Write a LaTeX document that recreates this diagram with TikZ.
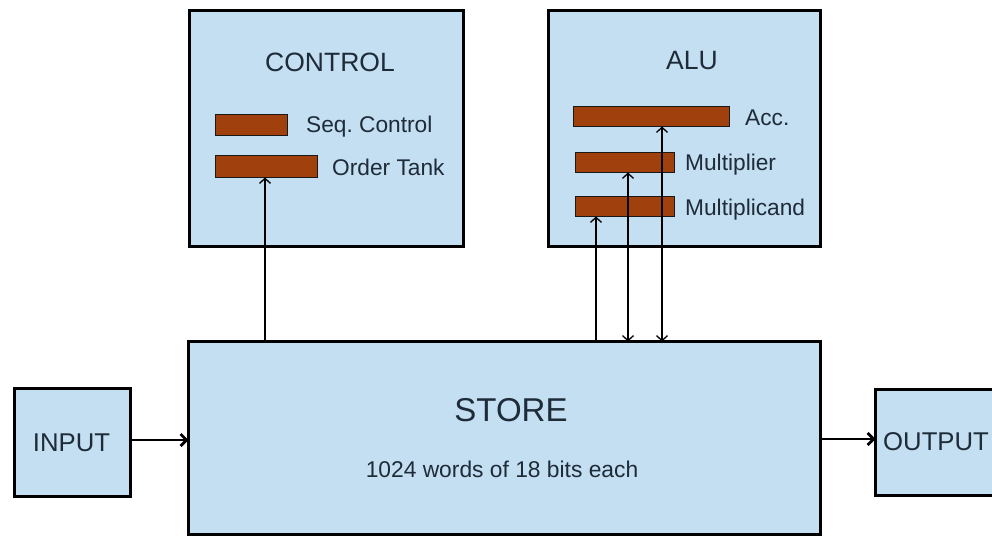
\documentclass[tikz,border=0pt]{standalone}
\usepackage{fontspec}
\setmainfont{Liberation Sans}
\usetikzlibrary{arrows.meta,calc}
\frenchspacing
\definecolor{boxblue}{HTML}{C4DEF2}
\definecolor{barbrown}{HTML}{A0400C}
\definecolor{txt}{HTML}{1E2B38}
\tikzset{
  box/.style={draw=black, line width=2.9pt, fill=boxblue, inner sep=0pt, outer sep=0pt},
  regbar/.style={draw=black!90, line width=1.3pt, fill=barbrown, inner sep=0pt, outer sep=0pt},
  title/.style={text=txt, inner sep=0pt, anchor=base, font=\fontsize{26.5}{30}\selectfont},
  small/.style={text=txt, inner sep=0pt, anchor=base west, font=\fontsize{22.7}{26}\selectfont},
  arr/.style={line width=1.3pt, -{Straight Barb[length=5pt,width=11pt]}},
  darr/.style={line width=1.3pt, {Straight Barb[length=5pt,width=11pt]}-{Straight Barb[length=5pt,width=11pt]}},
  thickarr/.style={line width=2.8pt, -{Straight Barb[length=6pt,width=12pt]}}
}
\begin{document}
\begin{tikzpicture}[x=1pt,y=-1pt]
\useasboundingbox[fill=white] (0,0) rectangle (992,537);
% boxes
\node[box, minimum width=274pt, minimum height=236pt] (ctrl) at (326.5,128.5) {};
\node[box, minimum width=272pt, minimum height=236pt] (alu) at (684.5,128.5) {};
\node[box, minimum width=632pt, minimum height=193pt] (store) at (504.5,438) {};
\node[box, minimum width=116pt, minimum height=108pt] (input) at (72.5,442.5) {};
\node[box, minimum width=140pt, minimum height=106pt] (output) at (945.5,442.5) {};
% registers
\node[regbar, minimum width=72pt, minimum height=21pt] (seq) at (251.5,125) {};
\node[regbar, minimum width=102pt, minimum height=22pt] (ot) at (266.5,166.5) {};
\node[regbar, minimum width=156pt, minimum height=20pt] (acc) at (651.5,116.5) {};
\node[regbar, minimum width=99pt, minimum height=20pt] (mp) at (625,162.5) {};
\node[regbar, minimum width=99pt, minimum height=20pt] (mc) at (625,206.5) {};
% texts
\node[title] (ctrlt) at (330,72) {CONTROL};
\node[small] (seqt) at (306,133) {Seq. Control};
\node[small] (ott) at (332,175.5) {Order Tank};
\node[title] (alut) at (692,70) {ALU};
\node[small] (acct) at (745,125.5) {Acc.};
\node[small] (mpt) at (685,170.5) {Multiplier};
\node[small] (mct) at (685,215) {Multiplicand};
\node[text=txt, inner sep=0pt, anchor=base, font=\fontsize{33}{36}\selectfont] (storet) at (511,421.5) {STORE};
\node[text=txt, inner sep=0pt, anchor=base, font=\fontsize{22.8}{26}\selectfont] (storew) at (502,477) {1024 words of 18 bits each};
\node[text=txt, inner sep=0pt, anchor=base, font=\fontsize{25.7}{29}\selectfont] (inputt) at (71.5,451.5) {INPUT};
\node[text=txt, inner sep=0pt, anchor=base west, font=\fontsize{25.7}{29}\selectfont] (outputt) at (883,450) {OUTPUT};
% connector points
\coordinate (otin) at ($(ot.south)+(-1.5,0)$);
\coordinate (mcin) at ($(mc.south west)+(20.5,0)$);
\coordinate (mpin) at ($(mp.south)+(3,0)$);
\coordinate (accin) at ($(acc.south)+(10.5,0)$);
% connectors
\draw[arr] (store.north -| otin) -- (otin);
\draw[arr] (store.north -| mcin) -- (mcin);
\draw[darr] (store.north -| mpin) -- (mpin);
\draw[darr] (store.north -| accin) -- (accin);
\draw[thickarr] (input.east |- 0,440) -- (store.west |- 0,440);
\draw[thickarr] (store.east |- 0,439) -- (output.west |- 0,439);
\end{tikzpicture}
\end{document}
